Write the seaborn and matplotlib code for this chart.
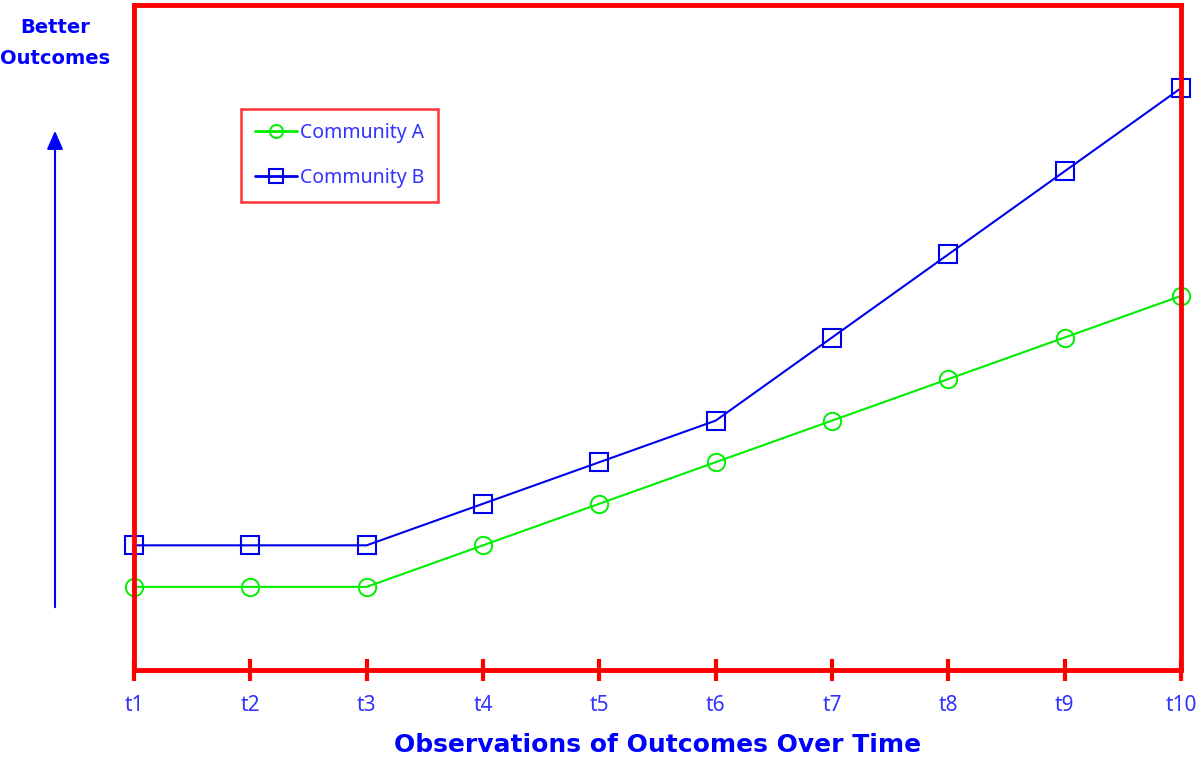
import matplotlib
matplotlib.use("Agg")
import matplotlib.pyplot as plt
import seaborn as sns
import pandas as pd
from matplotlib.patches import FancyArrowPatch

times = ["t1", "t2", "t3", "t4", "t5", "t6", "t7", "t8", "t9", "t10"]
community_a = [2, 2, 2, 3, 4, 5, 6, 7, 8, 9]
community_b = [3, 3, 3, 4, 5, 6, 8, 10, 12, 14]

sns.set_theme(style="white")
plt.rcParams['font.family'] = ['Noto Sans', 'DejaVu Sans']

x_pos = list(range(1, len(times) + 1))
df_a = pd.DataFrame({"x": x_pos, "y": community_a})
df_b = pd.DataFrame({"x": x_pos, "y": community_b})

fig = plt.figure(figsize=(11.99, 7.71), dpi=100)
ax = fig.add_axes([134/1199, 1 - 670/771, (1181-134)/1199, (670-5)/771])

sns.lineplot(data=df_a, x="x", y="y", ax=ax, color="#00ee00", marker="o",
             markersize=12.5, mfc="none", mec="#00ee00", mew=1.4, lw=1.5,
             label="Community A", clip_on=False)
sns.lineplot(data=df_b, x="x", y="y", ax=ax, color="#0000ee", marker="s",
             markersize=12.5, mfc="none", mec="#0000ee", mew=1.5, lw=1.5,
             label="Community B", clip_on=False)

ax.set_xlim(1, 10)
ax.set_ylim(0, 16)
ax.set_xticks(x_pos)
ax.set_xticklabels(times)
ax.set_yticks([])
ax.set_ylabel("")
ax.set_xlabel("Observations of Outcomes Over Time", fontsize=18, fontweight="bold",
              color="#0000ff", labelpad=12, family="DejaVu Sans")
for s in ax.spines.values():
    s.set_color("#ff0000")
    s.set_linewidth(3.5)
    s.set_visible(True)
ax.tick_params(axis="x", direction="inout", length=16, width=3, color="#ff0000",
               labelcolor="#3333ff", labelsize=15, pad=10, bottom=True)

leg = ax.legend(loc="upper left", bbox_to_anchor=((241-134)/1047, 1 - (109-5)/665),
                frameon=True, fontsize=14, handlelength=2.2, handletextpad=0.15,
                labelspacing=1.3, borderpad=0.7, borderaxespad=0, markerscale=0.75)
leg.get_frame().set_edgecolor("#ff0000")
leg.get_frame().set_linewidth(1.8)
leg.get_frame().set_boxstyle("square", pad=0)
for t in leg.get_texts():
    t.set_color("#3333ff")
for l in leg.get_lines():
    l.set_linewidth(2)

fig.text(55/1199, 1 - 43/771, "Better\nOutcomes", ha="center", va="center",
         fontsize=14, fontweight="bold", color="#0000ff", linespacing=1.75,
         family="DejaVu Sans")
arrow = FancyArrowPatch((55/1199, 1 - 610/771), (55/1199, 1 - 128/771),
                        transform=fig.transFigure, arrowstyle="-|>,head_length=0.8,head_width=0.35",
                        mutation_scale=14, color="#0000ff", lw=1.5)
fig.patches.append(arrow)

fig.savefig("out.png", dpi=100)
